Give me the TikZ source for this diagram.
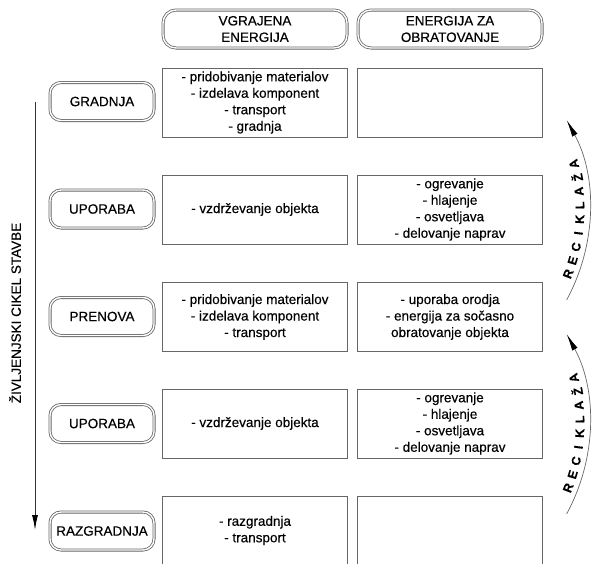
\documentclass[tikz,border=0pt]{standalone}
\usepackage{fontspec}
\setmainfont{Liberation Sans}[FakeBold=0.35]
\usetikzlibrary{arrows.meta}

\tikzset{
  faza/.style={draw=black!60, double=white, double distance=1.4pt, line width=0.8pt,
    rounded corners=11pt, minimum width=104pt, minimum height=38pt, inner sep=0pt, align=center},
  glava/.style={faza, minimum width=184pt, rounded corners=13pt},
  polje/.style={draw=black!60, line width=0.9pt, minimum width=185pt, minimum height=69pt,
    inner sep=0pt, align=center},
}

\begin{document}
\begin{tikzpicture}[x=1pt,y=-1pt,font=\fontsize{13.5}{16.5}\selectfont]
            \useasboundingbox (0,0) rectangle (593,563);

            % glave stolpcev
            \node[glava] (vgrajena) at (255,29) {VGRAJENA\\ENERGIJA};
            \node[glava] (obratovanje) at (450,29) {ENERGIJA ZA\\OBRATOVANJE};

            % faze
            \node[faza] (gradnja) at (102,101.5) {GRADNJA};
            \node[faza] (uporaba) at (102,209) {UPORABA};
            \node[faza] (prenova) at (102,316.5) {PRENOVA};
            \node[faza] (uporabab) at (102,423.5) {UPORABA};
            \node[faza] (razgradnja) at (102,531) {RAZGRADNJA};

            % vgrajena energija
            \node[polje] (gradnjav) at (255,102.5) {- pridobivanje materialov\\- izdelava komponent\\- transport\\- gradnja};
            \node[polje] (uporabav) at (255,209.5) {- vzdr\v{z}evanje objekta};
            \node[polje] (prenovav) at (255,317) {- pridobivanje materialov\\- izdelava komponent\\- transport};
            \node[polje] (uporababv) at (255,423.5) {- vzdr\v{z}evanje objekta};
            \node[polje] (razgradnjav) at (255,530.5) {- razgradnja\\- transport};

            % energija za obratovanje
            \node[polje] (gradnjao) at (450,102.5) {};
            \node[polje] (uporabao) at (450,209.5) {- ogrevanje\\- hlajenje\\- osvetljava\\- delovanje naprav};
            \node[polje] (prenovao) at (450,317) {- uporaba orodja\\- energija za so\v{c}asno\\obratovanje objekta};
            \node[polje] (uporababo) at (450,423.5) {- ogrevanje\\- hlajenje\\- osvetljava\\- delovanje naprav};
            \node[polje] (razgradnjao) at (450,530.5) {};

            % zivljenjski cikel
            \coordinate (zacetek) at (35,102);
            \coordinate (konec) at (35,530);
            \draw[black!80, line width=0.9pt, -{Latex[length=15pt,width=6pt,black]}] (zacetek) -- (konec);
            \node[rotate=90] (cikel) at (15,313) {\v{Z}IVLJENJSKI CIKEL STAVBE};

            % reciklaza
            \foreach \cy/\ime in {210/rec1,424/rec2}{
                \coordinate (\ime) at (402,\cy);
                \draw[black!60, line width=0.7pt, -{Latex[length=17pt,width=6pt,black]}]
                    ([shift={(28.6:187.6)}]\ime) arc[start angle=28.6, end angle=-28.6, radius=187.6];
                \foreach \ch [count=\i from 0] in {R,E,C,I,K,L,A,\v{Z},A}
                    \node[font=\bfseries\fontsize{12.5}{12.5}\selectfont, inner sep=0pt, rotate={90-(21-4.5*\i)}]
                        at ([shift={(21-4.5*\i:178)}]\ime) {\ch};
            }

        \end{tikzpicture}
\end{document}
